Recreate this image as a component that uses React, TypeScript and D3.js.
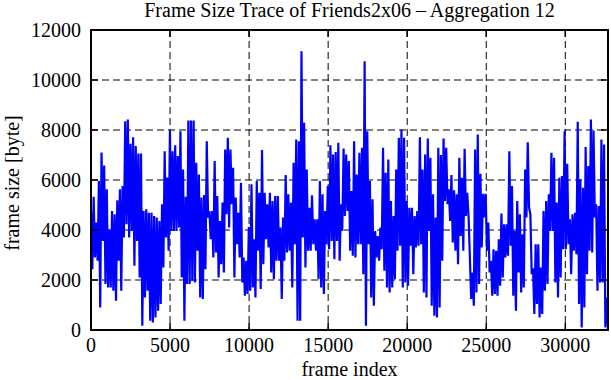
import React from "react";
import * as d3 from "d3";

const TITLE = "Frame Size Trace of Friends2x06 \u2013 Aggregation 12";
const X_LABEL = "frame index";
const Y_LABEL = "frame size [byte]";
const X_TICKS = [0, 5000, 10000, 15000, 20000, 25000, 30000];
const Y_TICKS = [0, 2000, 4000, 6000, 8000, 10000, 12000];
const X_MAX = 32700;

// frame sizes (bytes), in frame order
const frameSizes = [
  4760, 2430, 5330, 2900, 4300, 2770, 5960, 900, 7100, 3560, 6580, 1840, 5630, 1700, 4030, 1700,
  4760, 1570, 4630, 1170, 5190, 2770, 5630, 1570, 5760, 3700, 8350, 4230, 8420, 3700, 7450, 3960,
  7710, 2570, 7360, 3560, 7060, 2100, 7060, 170, 4760, 1300, 4830, 1570, 4690, 370, 4690, 300,
  4560, 500, 4500, 770, 4360, 1040, 5030, 2500, 7150, 3700, 6100, 3170, 7980, 3960, 7150, 3960,
  7390, 3960, 6960, 4100, 7950, 2100, 6420, 370, 5330, 1840, 8380, 1840, 8380, 1970,
  8380, 1900, 6690, 3170, 6220, 1300, 5300, 1240, 5400, 2430, 7550, 4500, 4760, 3630, 4760, 2900,
  6760, 3100, 5360, 2100, 4360, 2630, 5100, 2300, 7220, 4630, 7690, 4100, 7220, 5030, 6490, 2100,
  5300, 3430, 4690, 2900, 5890, 1900, 2900, 1370, 2770, 1440, 4120, 1570, 5830, 1700, 3630, 1300,
  5960, 3170, 5490, 1640, 7200, 2630, 5490, 3630, 5030, 3300, 5490, 2300, 5160, 2030, 5360, 2770,
  5360, 2770, 4100, 1240, 4500, 2770, 6200, 3100, 5430, 3170, 5100, 1700, 6690, 3430, 7620, 370,
  7550, 370, 11150, 3700, 8290, 2500, 6420, 3170, 4890, 3170, 5390, 3430, 4430, 3170, 4430, 2030,
  5960, 1700, 5430, 1440, 4760, 3430, 5760, 3230, 7390, 3560, 7020, 2830, 7120, 3560, 7490, 2770,
  5030, 3960, 7260, 4560, 7020, 4760, 6760, 3170, 5560, 2970, 7550, 2900, 6220, 3430, 7090, 3430,
  7290, 2230, 10750, 170, 7950, 3430, 5960, 1300, 5230, 970, 3960, 2900, 3760, 2770, 4100, 3230,
  7290, 2370, 6290, 1700, 6820, 1500, 5160, 1700, 4560, 2030, 6420, 3170, 7690, 3370,
  8020, 1700, 7690, 1900, 5160, 1770, 4890, 3370, 4890, 2230, 4560, 3300, 4760, 3370, 7710, 3430,
  6420, 1500, 7020, 1300, 7660, 3960, 6890, 970, 5430, 570, 4500, 500, 7290, 900, 7000, 2770,
  7660, 5160, 7290, 5030, 5630, 4360, 6200, 3500, 5590, 3170, 5430, 2630, 6890, 3760, 6090, 3170,
  7250, 4560, 5490, 4560, 2900, 1240, 2300, 970, 7220, 1500, 7820, 1840, 6250, 3300, 5450, 4500,
  5450, 3170, 4300, 2300, 2770, 1370, 3230, 1440, 3170, 1370, 3630, 1770, 4660, 2100, 4230, 2900,
  4230, 2970, 7150, 3370, 5760, 1370, 3960, 770, 5160, 2300, 4630, 1500, 3830, 1700, 6420, 4500,
  7510, 4890, 4630, 2230, 2470, 640, 3430, 1040, 3430, 500, 2500, 640, 4760, 1570, 5160, 1840,
  5430, 3960, 7090, 3960, 6890, 1900, 5100, 1300, 6090, 2100, 6160, 3230, 7950, 3230, 6650, 3430,
  4430, 2230, 4630, 3170, 4690, 3030, 8330, 1040, 6030, 100, 5690, 900, 7320, 2230, 6560, 3170,
  8420, 3100, 7980, 4500, 5030, 1570, 4960, 1900, 7620, 1900, 7420, 100, 1300, 40
];

const W = 611;
const H = 380;
const L = 91;
const R = 608;
const T = 30;
const B = 330;

const FONT = "'Liberation Serif', 'DejaVu Serif', serif";
const FS = 20;

export default function App() {
  const x = d3.scaleLinear().domain([0, X_MAX]).range([L, R]);
  const y = d3.scaleLinear().domain([0, 12000]).range([B, T]);
  const step = X_MAX / (frameSizes.length - 1);
  const line = d3
    .line<number>()
    .x((_, i) => x(i * step))
    .y((d) => y(d));
  const tickLen = 7;

  return (
    <svg
      width={W}
      height={H}
      style={{ position: "absolute", left: 0, top: 0, background: "#fff" }}
      fontFamily={FONT}
    >
      <rect x={0} y={0} width={W} height={H} fill="#fff" />
      <defs>
        <clipPath id="plotclip">
          <rect x={L} y={T} width={R - L} height={B - T} />
        </clipPath>
      </defs>
      {/* grid */}
      <g stroke="#000" strokeWidth={1} strokeDasharray="7,4">
        {X_TICKS.filter((t) => t > 0).map((t) => (
          <line key={"gx" + t} x1={x(t)} x2={x(t)} y1={T} y2={B} />
        ))}
        {Y_TICKS.filter((t) => t > 0 && t < 12000).map((t) => (
          <line key={"gy" + t} x1={L} x2={R} y1={y(t)} y2={y(t)} />
        ))}
      </g>
      {/* data */}
      <path
        d={line(frameSizes) || ""}
        fill="none"
        stroke="#0000ff"
        strokeWidth={2.2}
        strokeLinejoin="bevel"
        clipPath="url(#plotclip)"
      />
      {/* ticks */}
      <g stroke="#000" strokeWidth={1.5}>
        {X_TICKS.map((t) => (
          <g key={"tx" + t}>
            <line x1={x(t)} x2={x(t)} y1={B} y2={B - tickLen} />
            <line x1={x(t)} x2={x(t)} y1={T} y2={T + tickLen} />
          </g>
        ))}
        {Y_TICKS.map((t) => (
          <g key={"ty" + t}>
            <line x1={L} x2={L + tickLen} y1={y(t)} y2={y(t)} />
            <line x1={R} x2={R - tickLen} y1={y(t)} y2={y(t)} />
          </g>
        ))}
      </g>
      {/* frame */}
      <rect x={L} y={T} width={R - L} height={B - T} fill="none" stroke="#000" strokeWidth={2} />
      {/* tick labels */}
      <g fontSize={FS} fill="#000">
        {X_TICKS.map((t) => (
          <text key={"lx" + t} x={x(t)} y={352} textAnchor="middle">
            {String(t)}
          </text>
        ))}
        {Y_TICKS.map((t) => (
          <text key={"ly" + t} x={81} y={y(t)} dy="0.35em" textAnchor="end">
            {String(t)}
          </text>
        ))}
      </g>
      <text x={(L + R) / 2} y={17} textAnchor="middle" fontSize={FS}>
        {TITLE}
      </text>
      <text x={(L + R) / 2} y={376} textAnchor="middle" fontSize={FS}>
        {X_LABEL}
      </text>
      <text
        transform={`translate(19,${(T + B) / 2 + 3}) rotate(-90)`}
        textAnchor="middle"
        fontSize={FS}
      >
        {Y_LABEL}
      </text>
    </svg>
  );
}
